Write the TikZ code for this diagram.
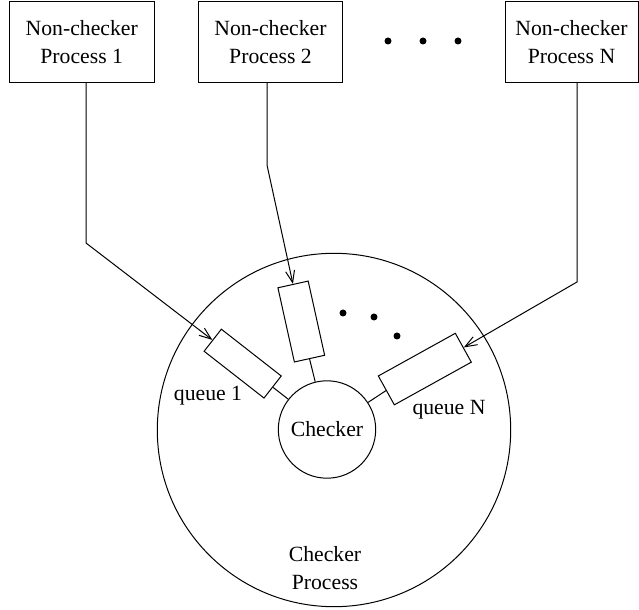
\documentclass[tikz,border=0pt]{standalone}
\usepackage{fontspec}
\setmainfont{Liberation Serif}
\usetikzlibrary{arrows.meta,positioning,calc}

\begin{document}
\begin{tikzpicture}[
  x=0.5pt,y=0.5pt,
  line width=0.5pt,
  font=\fontsize{10.85pt}{14pt}\selectfont,
  box/.style={draw,align=center,minimum width=72.3pt,minimum height=40.3pt,inner sep=0pt},
  queue/.style={draw,inner sep=0pt,minimum width=38pt,minimum height=14pt},
  ring/.style={draw,circle,inner sep=0pt},
  blob/.style={fill,circle,inner sep=0pt,minimum size=3.5pt},
  arrow/.style={-{Straight Barb[length=6pt,width=4.5pt]}}
]
\useasboundingbox (0,0) rectangle (639,-610);

\node[box] (p1) at (81.7,-42) {Non-checker\\Process 1};
\node[box,right=21.6pt of p1] (p2) {Non-checker\\Process 2};
\node[box,minimum width=66.5pt] (pN) at (571.5,-42) {Non-checker\\Process N};
\foreach \x [count=\i] in {388,423,458}
  \node[blob] (dot\i) at (\x,-41) {};

\node[ring,minimum size=176.7pt] (cproc) at (334,-430) {};
\node[align=center] (cproctext) at (325,-568) {Checker\\Process};
\node[ring,minimum size=48.7pt] (checker) at (327,-429.5) {Checker};

\node[queue,rotate=142] (q1) at ($(checker)+(142:107)$) {};
\node[queue,rotate=102.5,minimum height=15.5pt] (q2) at ($(checker)+(103.4:111)$) {};
\node[queue,rotate=29,minimum width=44pt,minimum height=16.5pt] (qN) at ($(checker)+(31.7:115)$) {};
\node (q1label) at (208,-396) {queue 1};
\node (qNlabel) at (449,-410) {queue N};
\foreach \x/\y [count=\i] in {343/-313,374/-317,397/-336}
  \node[blob] (idot\i) at (\x,\y) {};

\draw (q1.west) -- (checker);
\draw (q2.west) -- (checker);
\draw (qN.west) -- (checker);

\coordinate (b1) at (86,-243);
\coordinate (b2) at (267,-165);
\coordinate (bN) at (577,-282);
\draw[arrow] (p1.south -| b1) -- (b1) -- (q1.east);
\draw[arrow] (p2.south -| b2) -- (b2) -- (q2.east);
\draw[arrow] (pN.south -| bN) -- (bN) -- (qN.east);
\end{tikzpicture}
\end{document}
